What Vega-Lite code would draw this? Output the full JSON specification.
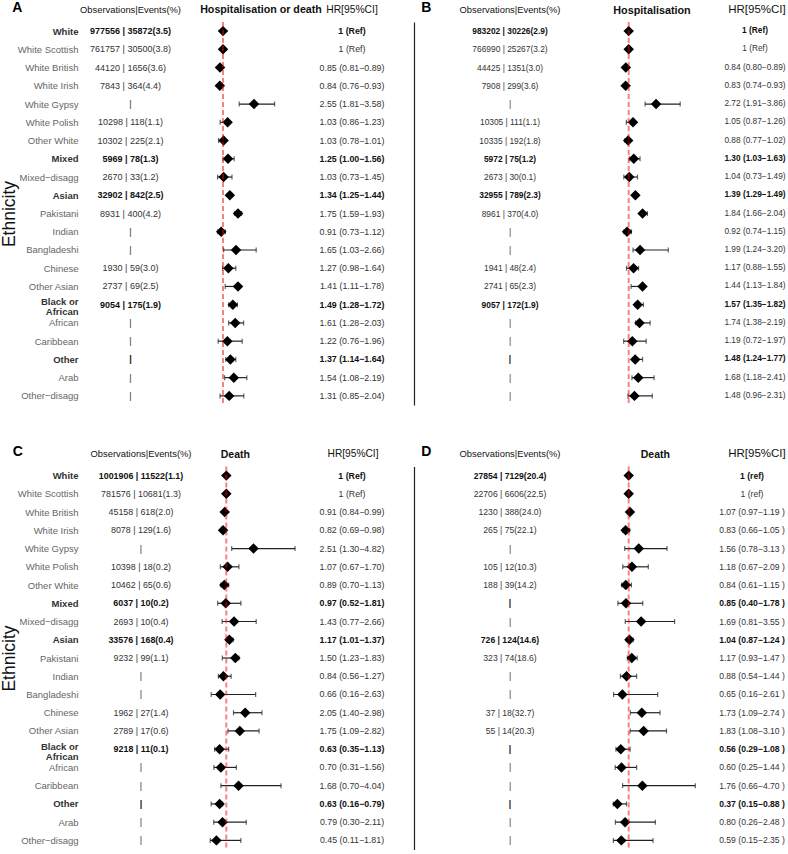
{
"$schema": "https://vega.github.io/schema/vega-lite/v6.json",
"background": "white",
"padding": {"left": 0, "top": 0, "right": 0, "bottom": 0},
"config": {"font": "Liberation Sans", "view": {"stroke": null}, "axis": {"grid": false}, "title": {"color": "#111111"}},
"datasets": {
"A": [
{"eth":"White","obs":"977556 | 35872(3.5)","hrt":"1 (Ref)","est":1,"lo":1,"hi":1,"b":true},
{"eth":"White Scottish","obs":"761757 | 30500(3.8)","hrt":"1 (Ref)","est":1,"lo":1,"hi":1,"b":false},
{"eth":"White British","obs":"44120 | 1656(3.6)","hrt":"0.85 (0.81−0.89)","est":0.85,"lo":0.81,"hi":0.89,"b":false},
{"eth":"White Irish","obs":"7843 | 364(4.4)","hrt":"0.84 (0.76−0.93)","est":0.84,"lo":0.76,"hi":0.93,"b":false},
{"eth":"White Gypsy","obs":"|","hrt":"2.55 (1.81−3.58)","est":2.55,"lo":1.81,"hi":3.58,"b":false},
{"eth":"White Polish","obs":"10298 | 118(1.1)","hrt":"1.03 (0.86−1.23)","est":1.23,"lo":0.86,"hi":1.23,"b":false},
{"eth":"Other White","obs":"10302 | 225(2.1)","hrt":"1.03 (0.78−1.01)","est":1.03,"lo":0.78,"hi":1.01,"b":false},
{"eth":"Mixed","obs":"5969 | 78(1.3)","hrt":"1.25 (1.00−1.56)","est":1.25,"lo":1.0,"hi":1.56,"b":true},
{"eth":"Mixed−disagg","obs":"2670 | 33(1.2)","hrt":"1.03 (0.73−1.45)","est":1.03,"lo":0.73,"hi":1.45,"b":false},
{"eth":"Asian","obs":"32902 | 842(2.5)","hrt":"1.34 (1.25−1.44)","est":1.34,"lo":1.25,"hi":1.44,"b":true},
{"eth":"Pakistani","obs":"8931 | 400(4.2)","hrt":"1.75 (1.59−1.93)","est":1.75,"lo":1.59,"hi":1.93,"b":false},
{"eth":"Indian","obs":"|","hrt":"0.91 (0.73−1.12)","est":0.91,"lo":0.73,"hi":1.12,"b":false},
{"eth":"Bangladeshi","obs":"|","hrt":"1.65 (1.03−2.66)","est":1.65,"lo":1.03,"hi":2.66,"b":false},
{"eth":"Chinese","obs":"1930 | 59(3.0)","hrt":"1.27 (0.98−1.64)","est":1.27,"lo":0.98,"hi":1.64,"b":false},
{"eth":"Other Asian","obs":"2737 | 69(2.5)","hrt":"1.41 (1.11−1.78)","est":1.75,"lo":1.11,"hi":1.78,"b":false},
{"eth":"Black or African","obs":"9054 | 175(1.9)","hrt":"1.49 (1.28−1.72)","est":1.49,"lo":1.28,"hi":1.72,"b":true},
{"eth":"African","obs":"|","hrt":"1.61 (1.28−2.03)","est":1.61,"lo":1.28,"hi":2.03,"b":false},
{"eth":"Caribbean","obs":"|","hrt":"1.22 (0.76−1.96)","est":1.22,"lo":0.76,"hi":1.96,"b":false},
{"eth":"Other","obs":"|","hrt":"1.37 (1.14−1.64)","est":1.37,"lo":1.14,"hi":1.64,"b":true},
{"eth":"Arab","obs":"|","hrt":"1.54 (1.08−2.19)","est":1.54,"lo":1.08,"hi":2.19,"b":false},
{"eth":"Other−disagg","obs":"|","hrt":"1.31 (0.85−2.04)","est":1.31,"lo":0.85,"hi":2.04,"b":false}
],
"B": [
{"eth":"White","obs":"983202 | 30226(2.9)","hrt":"1 (Ref)","est":1,"lo":1,"hi":1,"b":true},
{"eth":"White Scottish","obs":"766990 | 25267(3.2)","hrt":"1 (Ref)","est":1,"lo":1,"hi":1,"b":false},
{"eth":"White British","obs":"44425 | 1351(3.0)","hrt":"0.84 (0.80−0.89)","est":0.84,"lo":0.80,"hi":0.89,"b":false},
{"eth":"White Irish","obs":"7908 | 299(3.6)","hrt":"0.83 (0.74−0.93)","est":0.83,"lo":0.74,"hi":0.93,"b":false},
{"eth":"White Gypsy","obs":"|","hrt":"2.72 (1.91−3.86)","est":2.52,"lo":1.91,"hi":3.86,"b":false},
{"eth":"White Polish","obs":"10305 | 111(1.1)","hrt":"1.05 (0.87−1.26)","est":1.24,"lo":0.87,"hi":1.26,"b":false},
{"eth":"Other White","obs":"10335 | 192(1.8)","hrt":"0.88 (0.77−1.02)","est":0.97,"lo":0.79,"hi":1.05,"b":false},
{"eth":"Mixed","obs":"5972 | 75(1.2)","hrt":"1.30 (1.03−1.63)","est":1.28,"lo":1.03,"hi":1.63,"b":true},
{"eth":"Mixed−disagg","obs":"2673 | 30(0.1)","hrt":"1.04 (0.73−1.49)","est":1.03,"lo":0.73,"hi":1.49,"b":false},
{"eth":"Asian","obs":"32955 | 789(2.3)","hrt":"1.39 (1.29−1.49)","est":1.37,"lo":1.29,"hi":1.49,"b":true},
{"eth":"Pakistani","obs":"8961 | 370(4.0)","hrt":"1.84 (1.66−2.04)","est":1.77,"lo":1.66,"hi":2.04,"b":false},
{"eth":"Indian","obs":"|","hrt":"0.92 (0.74−1.15)","est":0.91,"lo":0.74,"hi":1.15,"b":false},
{"eth":"Bangladeshi","obs":"|","hrt":"1.99 (1.24−3.20)","est":1.63,"lo":1.24,"hi":3.20,"b":false},
{"eth":"Chinese","obs":"1941 | 48(2.4)","hrt":"1.17 (0.88−1.55)","est":1.27,"lo":0.88,"hi":1.55,"b":false},
{"eth":"Other Asian","obs":"2741 | 65(2.3)","hrt":"1.44 (1.13−1.84)","est":1.77,"lo":1.13,"hi":1.84,"b":false},
{"eth":"Black or African","obs":"9057 | 172(1.9)","hrt":"1.57 (1.35−1.82)","est":1.5,"lo":1.35,"hi":1.82,"b":true},
{"eth":"African","obs":"|","hrt":"1.74 (1.38−2.19)","est":1.6,"lo":1.38,"hi":2.19,"b":false},
{"eth":"Caribbean","obs":"|","hrt":"1.19 (0.72−1.97)","est":1.2,"lo":0.72,"hi":1.97,"b":false},
{"eth":"Other","obs":"|","hrt":"1.48 (1.24−1.77)","est":1.36,"lo":1.24,"hi":1.77,"b":true},
{"eth":"Arab","obs":"|","hrt":"1.68 (1.18−2.41)","est":1.53,"lo":1.18,"hi":2.41,"b":false},
{"eth":"Other−disagg","obs":"|","hrt":"1.48 (0.96−2.31)","est":1.32,"lo":0.96,"hi":2.31,"b":false}
],
"C": [
{"eth":"White","obs":"1001906 | 11522(1.1)","hrt":"1 (Ref)","est":1,"lo":1,"hi":1,"b":true},
{"eth":"White Scottish","obs":"781576 | 10681(1.3)","hrt":"1 (Ref)","est":1,"lo":1,"hi":1,"b":false},
{"eth":"White British","obs":"45158 | 618(2.0)","hrt":"0.91 (0.84−0.99)","est":0.91,"lo":0.84,"hi":0.99,"b":false},
{"eth":"White Irish","obs":"8078 | 129(1.6)","hrt":"0.82 (0.69−0.98)","est":0.82,"lo":0.69,"hi":0.98,"b":false},
{"eth":"White Gypsy","obs":"|","hrt":"2.51 (1.30−4.82)","est":2.51,"lo":1.30,"hi":4.82,"b":false},
{"eth":"White Polish","obs":"10398 | 18(0.2)","hrt":"1.07 (0.67−1.70)","est":1.07,"lo":0.67,"hi":1.70,"b":false},
{"eth":"Other White","obs":"10462 | 65(0.6)","hrt":"0.89 (0.70−1.13)","est":0.89,"lo":0.70,"hi":1.13,"b":false},
{"eth":"Mixed","obs":"6037 | 10(0.2)","hrt":"0.97 (0.52−1.81)","est":0.97,"lo":0.52,"hi":1.81,"b":true},
{"eth":"Mixed−disagg","obs":"2693 | 10(0.4)","hrt":"1.43 (0.77−2.66)","est":1.43,"lo":0.77,"hi":2.66,"b":false},
{"eth":"Asian","obs":"33576 | 168(0.4)","hrt":"1.17 (1.01−1.37)","est":1.17,"lo":1.01,"hi":1.37,"b":true},
{"eth":"Pakistani","obs":"9232 | 99(1.1)","hrt":"1.50 (1.23−1.83)","est":1.50,"lo":0.78,"hi":1.70,"b":false},
{"eth":"Indian","obs":"|","hrt":"0.84 (0.56−1.27)","est":0.84,"lo":0.56,"hi":1.27,"b":false},
{"eth":"Bangladeshi","obs":"|","hrt":"0.66 (0.16−2.63)","est":0.66,"lo":0.16,"hi":2.63,"b":false},
{"eth":"Chinese","obs":"1962 | 27(1.4)","hrt":"2.05 (1.40−2.98)","est":2.05,"lo":1.40,"hi":2.98,"b":false},
{"eth":"Other Asian","obs":"2789 | 17(0.6)","hrt":"1.75 (1.09−2.82)","est":1.75,"lo":1.09,"hi":2.82,"b":false},
{"eth":"Black or African","obs":"9218 | 11(0.1)","hrt":"0.63 (0.35−1.13)","est":0.63,"lo":0.35,"hi":1.13,"b":true},
{"eth":"African","obs":"|","hrt":"0.70 (0.31−1.56)","est":0.70,"lo":0.31,"hi":1.56,"b":false},
{"eth":"Caribbean","obs":"|","hrt":"1.68 (0.70−4.04)","est":1.68,"lo":0.70,"hi":4.04,"b":false},
{"eth":"Other","obs":"|","hrt":"0.63 (0.16−0.79)","est":0.63,"lo":0.16,"hi":0.79,"b":true},
{"eth":"Arab","obs":"|","hrt":"0.79 (0.30−2.11)","est":0.79,"lo":0.30,"hi":2.11,"b":false},
{"eth":"Other−disagg","obs":"|","hrt":"0.45 (0.11−1.81)","est":0.45,"lo":0.11,"hi":1.81,"b":false}
],
"D": [
{"eth":"White","obs":"27854 | 7129(20.4)","hrt":"1 (ref)","est":1,"lo":1,"hi":1,"b":true},
{"eth":"White Scottish","obs":"22706 | 6606(22.5)","hrt":"1 (ref)","est":1,"lo":1,"hi":1,"b":false},
{"eth":"White British","obs":"1230 | 388(24.0)","hrt":"1.07 (0.97−1.19 )","est":1.07,"lo":0.97,"hi":1.19,"b":false},
{"eth":"White Irish","obs":"265 | 75(22.1)","hrt":"0.83 (0.66−1.05 )","est":0.83,"lo":0.66,"hi":1.05,"b":false},
{"eth":"White Gypsy","obs":"|","hrt":"1.56 (0.78−3.13 )","est":1.56,"lo":0.78,"hi":3.13,"b":false},
{"eth":"White Polish","obs":"105 | 12(10.3)","hrt":"1.18 (0.67−2.09 )","est":1.18,"lo":0.67,"hi":2.09,"b":false},
{"eth":"Other White","obs":"188 | 39(14.2)","hrt":"0.84 (0.61−1.15 )","est":0.84,"lo":0.61,"hi":1.15,"b":false},
{"eth":"Mixed","obs":"|","hrt":"0.85 (0.40−1.78 )","est":0.85,"lo":0.40,"hi":1.78,"b":true},
{"eth":"Mixed−disagg","obs":"|","hrt":"1.69 (0.81−3.55 )","est":1.69,"lo":0.81,"hi":3.55,"b":false},
{"eth":"Asian","obs":"726 | 124(14.6)","hrt":"1.04 (0.87−1.24 )","est":1.04,"lo":0.87,"hi":1.24,"b":true},
{"eth":"Pakistani","obs":"323 | 74(18.6)","hrt":"1.17 (0.93−1.47 )","est":1.17,"lo":0.93,"hi":1.47,"b":false},
{"eth":"Indian","obs":"|","hrt":"0.88 (0.54−1.44 )","est":0.88,"lo":0.54,"hi":1.44,"b":false},
{"eth":"Bangladeshi","obs":"|","hrt":"0.65 (0.16−2.61 )","est":0.65,"lo":0.16,"hi":2.61,"b":false},
{"eth":"Chinese","obs":"37 | 18(32.7)","hrt":"1.73 (1.09−2.74 )","est":1.73,"lo":1.09,"hi":2.74,"b":false},
{"eth":"Other Asian","obs":"55 | 14(20.3)","hrt":"1.83 (1.08−3.10 )","est":1.83,"lo":1.08,"hi":3.10,"b":false},
{"eth":"Black or African","obs":"|","hrt":"0.56 (0.29−1.08 )","est":0.56,"lo":0.29,"hi":1.08,"b":true},
{"eth":"African","obs":"|","hrt":"0.60 (0.25−1.44 )","est":0.60,"lo":0.25,"hi":1.44,"b":false},
{"eth":"Caribbean","obs":"|","hrt":"1.76 (0.66−4.70 )","est":1.76,"lo":0.66,"hi":4.70,"b":false},
{"eth":"Other","obs":"|","hrt":"0.37 (0.15−0.88 )","est":0.37,"lo":0.15,"hi":0.88,"b":true},
{"eth":"Arab","obs":"|","hrt":"0.80 (0.26−2.48 )","est":0.80,"lo":0.26,"hi":2.48,"b":false},
{"eth":"Other−disagg","obs":"|","hrt":"0.59 (0.15−2.35 )","est":0.59,"lo":0.15,"hi":2.35,"b":false}
]
},
"columns": 6,
"align": "none",
"bounds": "flush",
"spacing": {"row": 61.5, "column": 0},
"concat": [
  {"width": 122, "height": 383, "data": {"name": "A"},
   "title": {"text": "Observations|Events(%)", "fontSize": 9.4, "fontWeight": "normal", "offset": 7, "dx": -10.5},
   "encoding": {"y": {"field": "eth", "type": "nominal", "sort": null, "axis": {"title": "Ethnicity", "titleFontSize": 17.5, "titleFontWeight": "normal", "titleColor": "#111111", "titlePadding": -1, "domain": false, "ticks": false, "labelPadding": 2, "labelFontSize": 9.5, "labelLineHeight": 10, "labelExpr": "datum.value == 'Black or African' ? ['Black or', 'African'] : datum.value", "labelOffset": {"condition": {"test": "datum.value == 'Black or African'", "value": -3}, "value": 0}, "labelFontWeight": {"condition": {"test": "indexof(['White','Mixed','Asian','Black or African','Other'], datum.value) >= 0", "value": "bold"}, "value": "normal"}, "labelColor": {"condition": {"test": "indexof(['White','Mixed','Asian','Black or African','Other'], datum.value) >= 0", "value": "#333333"}, "value": "#666666"}}}},
   "layer": [
    {"mark": {"type": "text", "fontSize": 9.0, "color": "#333333", "dx": -10.5}, "encoding": {"text": {"condition": {"test": "!datum.b", "field": "obs", "type": "nominal"}, "value": ""}}},
    {"mark": {"type": "text", "fontSize": 9.0, "fontWeight": "bold", "color": "#111111", "dx": -10.5}, "encoding": {"text": {"condition": {"test": "datum.b", "field": "obs", "type": "nominal"}, "value": ""}}}
   ]},
  {"width": 132, "height": 383, "data": {"name": "A"},
   "title": {"text": "Hospitalisation or death", "fontSize": 10.7, "fontWeight": "bold", "offset": -16, "dx": -7},
   "encoding": {"y": {"field": "eth", "type": "nominal", "sort": null, "axis": {"title": "A", "labels": false, "ticks": false, "domain": false, "titleAngle": 0, "titleAlign": "left", "titleBaseline": "alphabetic", "titleX": -190.3, "titleY": -11, "titleFontSize": 14, "titleFontWeight": "bold", "titleColor": "#000000"}}},
   "layer": [
    {"mark": {"type": "rule", "color": "#222222", "strokeWidth": 1.2}, "encoding": {"x": {"field": "lo", "type": "quantitative", "scale": {"domain": [-0.05, 6.55], "zero": false, "nice": false}, "axis": null}, "x2": {"field": "hi"}}},
    {"mark": {"type": "tick", "color": "#222222", "size": 5, "thickness": 1.2}, "encoding": {"x": {"field": "lo", "type": "quantitative", "axis": null}}},
    {"mark": {"type": "tick", "color": "#222222", "size": 5, "thickness": 1.2}, "encoding": {"x": {"field": "hi", "type": "quantitative", "axis": null}}},
    {"mark": {"type": "point", "shape": "diamond", "filled": true, "color": "#000000", "opacity": 1, "size": 110}, "encoding": {"x": {"field": "est", "type": "quantitative", "axis": null}}},
    {"transform": [{"aggregate": [{"op": "min", "field": "eth", "as": "eth"}]}, {"calculate": "1", "as": "ref"}], "mark": {"type": "rule", "color": "#ff0000", "opacity": 0.5, "strokeWidth": 2, "strokeDash": [5, 3]}, "encoding": {"x": {"field": "ref", "type": "quantitative", "axis": null}, "y": null}}
   ]},
  {"width": 80, "height": 383, "data": {"name": "A"},
   "title": {"text": "HR[95%CI]", "fontSize": 10.3, "fontWeight": "normal", "offset": 7, "dx": -22},
   "encoding": {"y": {"field": "eth", "type": "nominal", "sort": null, "axis": null}},
   "layer": [
    {"mark": {"type": "text", "fontSize": 8.8, "color": "#333333", "dx": -22}, "encoding": {"text": {"condition": {"test": "!datum.b", "field": "hrt", "type": "nominal"}, "value": ""}}},
    {"mark": {"type": "text", "fontSize": 8.8, "fontWeight": "bold", "color": "#111111", "dx": -22}, "encoding": {"text": {"condition": {"test": "datum.b", "field": "hrt", "type": "nominal"}, "value": ""}}}
   ]},
  {"width": 192, "height": 383, "data": {"name": "B"},
   "title": {"text": "Observations|Events(%)", "fontSize": 9.4, "fontWeight": "normal", "offset": 7},
   "encoding": {"y": {"field": "eth", "type": "nominal", "sort": null, "axis": {"title": null, "labels": false, "ticks": false, "domain": true, "domainColor": "#222222", "domainWidth": 1.2}}},
   "layer": [
    {"mark": {"type": "text", "fontSize": 8.4, "color": "#333333"}, "encoding": {"text": {"condition": {"test": "!datum.b", "field": "obs", "type": "nominal"}, "value": ""}}},
    {"mark": {"type": "text", "fontSize": 8.4, "fontWeight": "bold", "color": "#111111"}, "encoding": {"text": {"condition": {"test": "datum.b", "field": "obs", "type": "nominal"}, "value": ""}}}
   ]},
  {"width": 134, "height": 383, "data": {"name": "B"},
   "title": {"text": "Hospitalisation", "fontSize": 10.8, "fontWeight": "bold", "offset": -16, "dx": -21},
   "encoding": {"y": {"field": "eth", "type": "nominal", "sort": null, "axis": {"title": "B", "labels": false, "ticks": false, "domain": false, "titleAngle": 0, "titleAlign": "left", "titleBaseline": "alphabetic", "titleX": -185.3, "titleY": -11, "titleFontSize": 14, "titleFontWeight": "bold", "titleColor": "#000000"}}},
   "layer": [
    {"mark": {"type": "rule", "color": "#222222", "strokeWidth": 1.2}, "encoding": {"x": {"field": "lo", "type": "quantitative", "scale": {"domain": [-0.261, 7.183], "zero": false, "nice": false}, "axis": null}, "x2": {"field": "hi"}}},
    {"mark": {"type": "tick", "color": "#222222", "size": 5, "thickness": 1.2}, "encoding": {"x": {"field": "lo", "type": "quantitative", "axis": null}}},
    {"mark": {"type": "tick", "color": "#222222", "size": 5, "thickness": 1.2}, "encoding": {"x": {"field": "hi", "type": "quantitative", "axis": null}}},
    {"mark": {"type": "point", "shape": "diamond", "filled": true, "color": "#000000", "opacity": 1, "size": 110}, "encoding": {"x": {"field": "est", "type": "quantitative", "axis": null}}},
    {"transform": [{"aggregate": [{"op": "min", "field": "eth", "as": "eth"}]}, {"calculate": "1", "as": "ref"}], "mark": {"type": "rule", "color": "#ff0000", "opacity": 0.5, "strokeWidth": 2, "strokeDash": [5, 3]}, "encoding": {"x": {"field": "ref", "type": "quantitative", "axis": null}, "y": null}}
   ]},
  {"width": 34, "height": 383, "data": {"name": "B"},
   "title": {"text": "HR[95%CI]", "fontSize": 11.5, "fontWeight": "normal", "offset": 7},
   "encoding": {"y": {"field": "eth", "type": "nominal", "sort": null, "axis": null}},
   "layer": [
    {"mark": {"type": "text", "fontSize": 8.3, "color": "#333333", "dx": -2}, "encoding": {"text": {"condition": {"test": "!datum.b", "field": "hrt", "type": "nominal"}, "value": ""}}},
    {"mark": {"type": "text", "fontSize": 8.3, "fontWeight": "bold", "color": "#111111", "dx": -2}, "encoding": {"text": {"condition": {"test": "datum.b", "field": "hrt", "type": "nominal"}, "value": ""}}}
   ]},
  {"width": 122, "height": 383, "data": {"name": "C"},
   "title": {"text": "Observations|Events(%)", "fontSize": 9.4, "fontWeight": "normal", "offset": 7},
   "encoding": {"y": {"field": "eth", "type": "nominal", "sort": null, "axis": {"title": "Ethnicity", "titleFontSize": 17.5, "titleFontWeight": "normal", "titleColor": "#111111", "titlePadding": -1, "domain": false, "ticks": false, "labelPadding": 2, "labelFontSize": 9.5, "labelLineHeight": 10, "labelExpr": "datum.value == 'Black or African' ? ['Black or', 'African'] : datum.value", "labelOffset": {"condition": {"test": "datum.value == 'Black or African'", "value": -3}, "value": 0}, "labelFontWeight": {"condition": {"test": "indexof(['White','Mixed','Asian','Black or African','Other'], datum.value) >= 0", "value": "bold"}, "value": "normal"}, "labelColor": {"condition": {"test": "indexof(['White','Mixed','Asian','Black or African','Other'], datum.value) >= 0", "value": "#333333"}, "value": "#666666"}}}},
   "layer": [
    {"mark": {"type": "text", "fontSize": 8.9, "color": "#333333"}, "encoding": {"text": {"condition": {"test": "!datum.b", "field": "obs", "type": "nominal"}, "value": ""}}},
    {"mark": {"type": "text", "fontSize": 8.9, "fontWeight": "bold", "color": "#111111"}, "encoding": {"text": {"condition": {"test": "datum.b", "field": "obs", "type": "nominal"}, "value": ""}}}
   ]},
  {"width": 132, "height": 383, "data": {"name": "C"},
   "title": {"text": "Death", "fontSize": 10.5, "fontWeight": "bold", "offset": -16, "dx": -32.7},
   "encoding": {"y": {"field": "eth", "type": "nominal", "sort": null, "axis": {"title": "C", "labels": false, "ticks": false, "domain": false, "titleAngle": 0, "titleAlign": "left", "titleBaseline": "alphabetic", "titleX": -189.7, "titleY": -11, "titleFontSize": 14, "titleFontWeight": "bold", "titleColor": "#000000"}}},
   "layer": [
    {"mark": {"type": "rule", "color": "#222222", "strokeWidth": 1.2}, "encoding": {"x": {"field": "lo", "type": "quantitative", "scale": {"domain": [-0.35, 6.983], "zero": false, "nice": false}, "axis": null}, "x2": {"field": "hi"}}},
    {"mark": {"type": "tick", "color": "#222222", "size": 5, "thickness": 1.2}, "encoding": {"x": {"field": "lo", "type": "quantitative", "axis": null}}},
    {"mark": {"type": "tick", "color": "#222222", "size": 5, "thickness": 1.2}, "encoding": {"x": {"field": "hi", "type": "quantitative", "axis": null}}},
    {"mark": {"type": "point", "shape": "diamond", "filled": true, "color": "#000000", "opacity": 1, "size": 110}, "encoding": {"x": {"field": "est", "type": "quantitative", "axis": null}}},
    {"transform": [{"aggregate": [{"op": "min", "field": "eth", "as": "eth"}]}, {"calculate": "1", "as": "ref"}], "mark": {"type": "rule", "color": "#ff0000", "opacity": 0.5, "strokeWidth": 2, "strokeDash": [5, 3]}, "encoding": {"x": {"field": "ref", "type": "quantitative", "axis": null}, "y": null}}
   ]},
  {"width": 80, "height": 383, "data": {"name": "C"},
   "title": {"text": "HR[95%CI]", "fontSize": 10.2, "fontWeight": "normal", "offset": 7, "dx": -21},
   "encoding": {"y": {"field": "eth", "type": "nominal", "sort": null, "axis": null}},
   "layer": [
    {"mark": {"type": "text", "fontSize": 8.8, "color": "#333333", "dx": -22}, "encoding": {"text": {"condition": {"test": "!datum.b", "field": "hrt", "type": "nominal"}, "value": ""}}},
    {"mark": {"type": "text", "fontSize": 8.8, "fontWeight": "bold", "color": "#111111", "dx": -22}, "encoding": {"text": {"condition": {"test": "datum.b", "field": "hrt", "type": "nominal"}, "value": ""}}}
   ]},
  {"width": 192, "height": 383, "data": {"name": "D"},
   "title": {"text": "Observations|Events(%)", "fontSize": 9.4, "fontWeight": "normal", "offset": 7},
   "encoding": {"y": {"field": "eth", "type": "nominal", "sort": null, "axis": {"title": null, "labels": false, "ticks": false, "domain": true, "domainColor": "#222222", "domainWidth": 1.2}}},
   "layer": [
    {"mark": {"type": "text", "fontSize": 8.6, "color": "#333333"}, "encoding": {"text": {"condition": {"test": "!datum.b", "field": "obs", "type": "nominal"}, "value": ""}}},
    {"mark": {"type": "text", "fontSize": 8.6, "fontWeight": "bold", "color": "#111111"}, "encoding": {"text": {"condition": {"test": "datum.b", "field": "obs", "type": "nominal"}, "value": ""}}}
   ]},
  {"width": 134, "height": 383, "data": {"name": "D"},
   "title": {"text": "Death", "fontSize": 10.5, "fontWeight": "bold", "offset": -16, "dx": -17.7},
   "encoding": {"y": {"field": "eth", "type": "nominal", "sort": null, "axis": {"title": "D", "labels": false, "ticks": false, "domain": false, "titleAngle": 0, "titleAlign": "left", "titleBaseline": "alphabetic", "titleX": -185.3, "titleY": -11, "titleFontSize": 14, "titleFontWeight": "bold", "titleColor": "#000000"}}},
   "layer": [
    {"mark": {"type": "rule", "color": "#222222", "strokeWidth": 1.2}, "encoding": {"x": {"field": "lo", "type": "quantitative", "scale": {"domain": [-0.261, 7.183], "zero": false, "nice": false}, "axis": null}, "x2": {"field": "hi"}}},
    {"mark": {"type": "tick", "color": "#222222", "size": 5, "thickness": 1.2}, "encoding": {"x": {"field": "lo", "type": "quantitative", "axis": null}}},
    {"mark": {"type": "tick", "color": "#222222", "size": 5, "thickness": 1.2}, "encoding": {"x": {"field": "hi", "type": "quantitative", "axis": null}}},
    {"mark": {"type": "point", "shape": "diamond", "filled": true, "color": "#000000", "opacity": 1, "size": 110}, "encoding": {"x": {"field": "est", "type": "quantitative", "axis": null}}},
    {"transform": [{"aggregate": [{"op": "min", "field": "eth", "as": "eth"}]}, {"calculate": "1", "as": "ref"}], "mark": {"type": "rule", "color": "#ff0000", "opacity": 0.5, "strokeWidth": 2, "strokeDash": [5, 3]}, "encoding": {"x": {"field": "ref", "type": "quantitative", "axis": null}, "y": null}}
   ]},
  {"width": 34, "height": 383, "data": {"name": "D"},
   "title": {"text": "HR[95%CI]", "fontSize": 11.5, "fontWeight": "normal", "offset": 7},
   "encoding": {"y": {"field": "eth", "type": "nominal", "sort": null, "axis": null}},
   "layer": [
    {"mark": {"type": "text", "fontSize": 8.6, "color": "#333333", "dx": -5}, "encoding": {"text": {"condition": {"test": "!datum.b", "field": "hrt", "type": "nominal"}, "value": ""}}},
    {"mark": {"type": "text", "fontSize": 8.6, "fontWeight": "bold", "color": "#111111", "dx": -5}, "encoding": {"text": {"condition": {"test": "datum.b", "field": "hrt", "type": "nominal"}, "value": ""}}}
   ]}
]
}
